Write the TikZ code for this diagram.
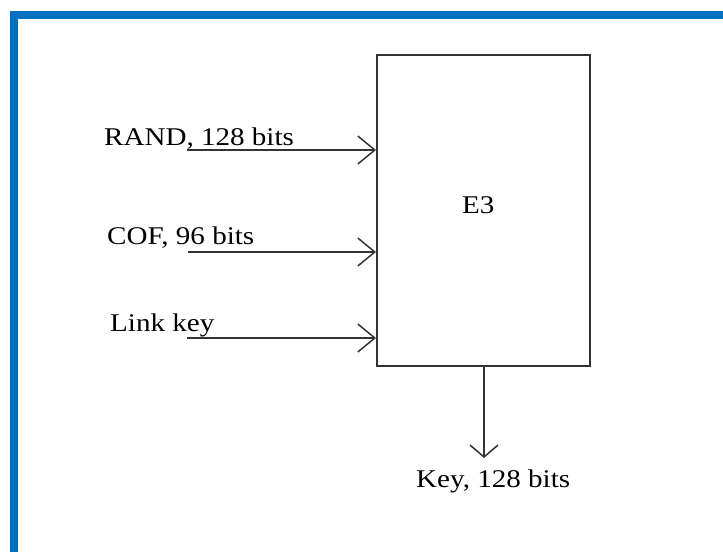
\documentclass[tikz,border=0pt]{standalone}
\usepackage{fontspec}
\setmainfont{Liberation Serif}[FakeStretch=1.14]
\usetikzlibrary{arrows.meta}
\definecolor{bluebar}{HTML}{0070C0}
\definecolor{ink}{HTML}{333333}
\tikzset{
  lbl/.style={anchor=base west, inner sep=0pt, font=\fontsize{25.5}{30}\selectfont, text=black},
  inarrow/.style={draw=ink, line width=2pt, -{Straight Barb[length=17pt, width=28pt, line width=1.5pt]}},
  outarrow/.style={draw=ink, line width=2pt, -{Straight Barb[length=12pt, width=28pt, line width=1.5pt]}},
  blockbox/.style={draw=ink, line width=2pt, inner sep=0pt, minimum width=213pt, minimum height=311pt}
}
\begin{document}
\begin{tikzpicture}[x=1pt, y=-1pt]
\useasboundingbox (0,0) rectangle (723,552);
% blue frame
\fill[bluebar] (10,11) rectangle (723,19);
\fill[bluebar] (10,11) rectangle (18,552);
% block
\node[blockbox] (box) at (483.5,210.5) {};
\node[lbl] (e3) at (462,213) {E3};
% input labels
\node[lbl] (rand) at (104,145) {RAND, 128 bits};
\node[lbl] (cof) at (107,244) {COF, 96 bits};
\node[lbl] (link) at (110,331) {Link key};
% input arrows
\coordinate (r0) at (187,150);
\coordinate (c0) at (188,252);
\coordinate (l0) at (187,338);
\draw[inarrow] (r0) -- (r0 -| box.west);
\draw[inarrow] (c0) -- (c0 -| box.west);
\draw[inarrow] (l0) -- (l0 -| box.west);
% output
\coordinate (o1) at (484,458);
\draw[outarrow] (box.south -| o1) -- (o1);
\node[lbl] (key) at (416,487) {Key, 128 bits};
\end{tikzpicture}
\end{document}
